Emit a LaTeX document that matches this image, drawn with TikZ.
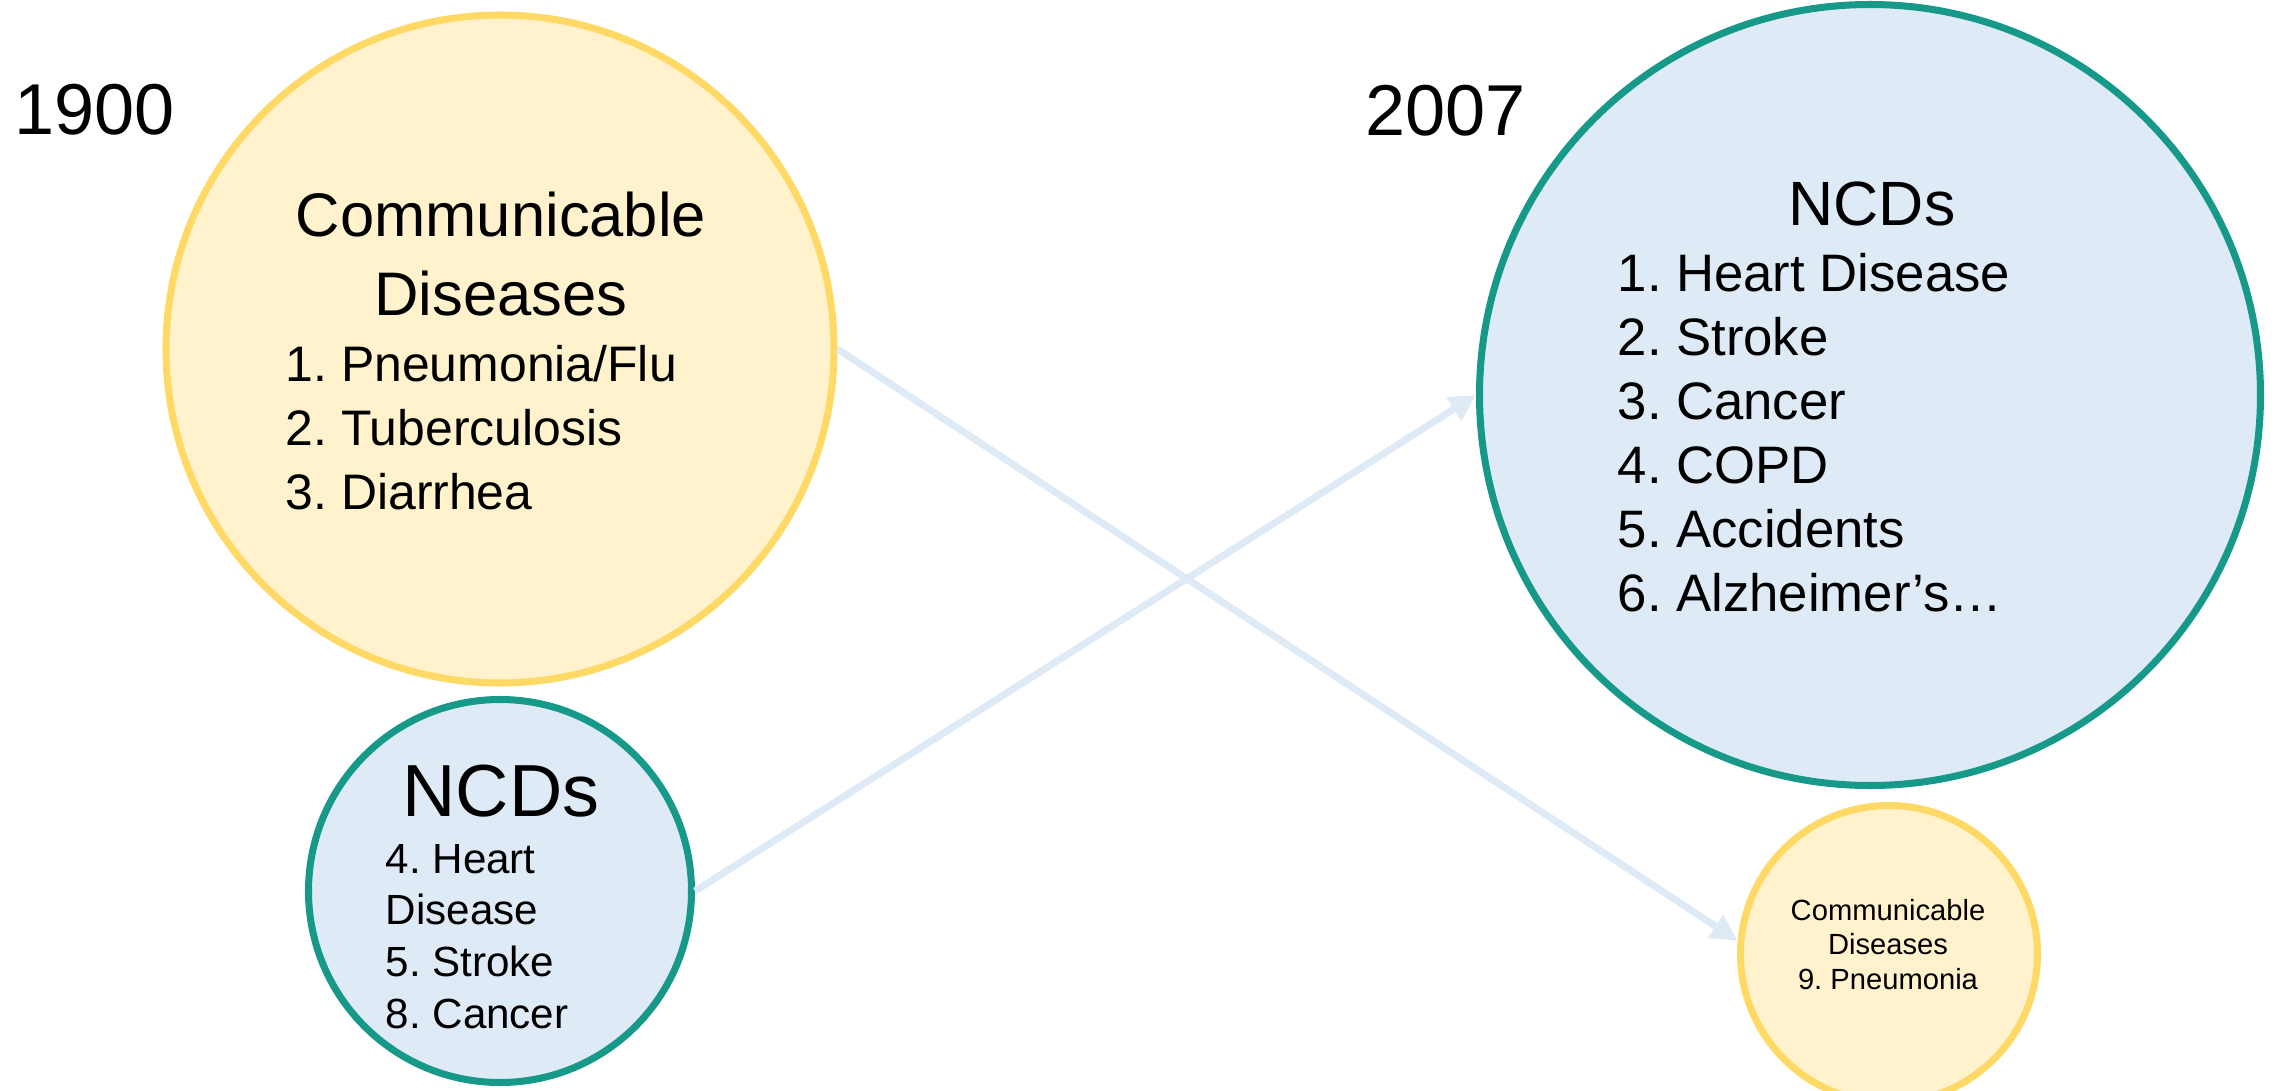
\documentclass[tikz,border=0pt]{standalone}
\usepackage{fontspec}
\setmainfont{Liberation Sans}
\usetikzlibrary{arrows.meta}

\definecolor{cdfill}{HTML}{FFF2CC}
\definecolor{cdline}{HTML}{FFD966}
\definecolor{ncdfill}{HTML}{DEEBF7}
\definecolor{ncdline}{HTML}{17998A}

\newcommand{\fsz}[2]{\fontsize{#1}{#2}\selectfont\frenchspacing}

\tikzset{
  cdcircle/.style={circle, draw=cdline, fill=cdfill, line width=2pt, inner sep=0pt},
  ncdcircle/.style={circle, draw=ncdline, fill=ncdfill, line width=2pt, inner sep=0pt},
  shiftarrow/.style={draw=ncdfill, line width=2pt, -{Triangle[length=7.5pt, width=7.5pt]}},
  txt/.style={inner sep=0pt, align=left},
  ttl/.style={inner sep=0pt, align=center, anchor=base},
}

\begin{document}
\begin{tikzpicture}
    \useasboundingbox (0,0) rectangle (22.79,10.90);

    % circles
    \node[cdcircle, minimum size=6.68cm] (cd1900) at (5.00,7.41) {};
    \node[ncdcircle, minimum size=3.83cm] (ncd1900) at (5.00,1.99) {};
    \node[ncdcircle, minimum size=7.81cm] (ncd2007) at (18.70,6.95) {};
    \node[cdcircle, minimum size=2.97cm] (cd2007) at (18.89,1.36) {};

    % years
    \node[txt, anchor=base west, font=\fsz{20.5}{24}] (y1900) at (0.14,9.56) {1900};
    \node[txt, anchor=base west, font=\fsz{20.5}{24}] (y2007) at (13.65,9.55) {2007};

    % 1900 (base = last line)
    \node[ttl, font=\fsz{17.5}{22.2}] (cd1900title) at (5.01,7.75) {Communicable\\Diseases};
    \node[txt, anchor=base west, font=\fsz{14.2}{18.1}] (cd1900list) at (2.85,5.81)
        {1. Pneumonia/Flu\\2. Tuberculosis\\3. Diarrhea};
    \node[ttl, font=\fsz{21}{24}] (ncd1900title) at (5.01,2.74) {NCDs};
    \node[txt, anchor=base west, font=\fsz{12}{14.7}] (ncd1900list) at (3.85,0.62)
        {4. Heart\\Disease\\5. Stroke\\8. Cancer};

    % 2007
    \node[ttl, font=\fsz{17.8}{22}] (ncd2007title) at (18.72,8.645) {NCDs};
    \node[txt, anchor=base west, font=\fsz{15}{18.2}] (ncd2007list) at (16.17,4.79)
        {1. Heart Disease\\2. Stroke\\3. Cancer\\4. COPD\\5. Accidents\\6. Alzheimer’s…};
    \node[ttl, font=\fsz{8.3}{9.8}] (cd2007text) at (18.88,1.01)
        {Communicable\\Diseases\\9. Pneumonia};

    % arrows
    \draw[shiftarrow] (cd1900.east) -- (cd2007.175);
    \draw[shiftarrow] (ncd1900.east) -- (ncd2007.west);
\end{tikzpicture}
\end{document}
